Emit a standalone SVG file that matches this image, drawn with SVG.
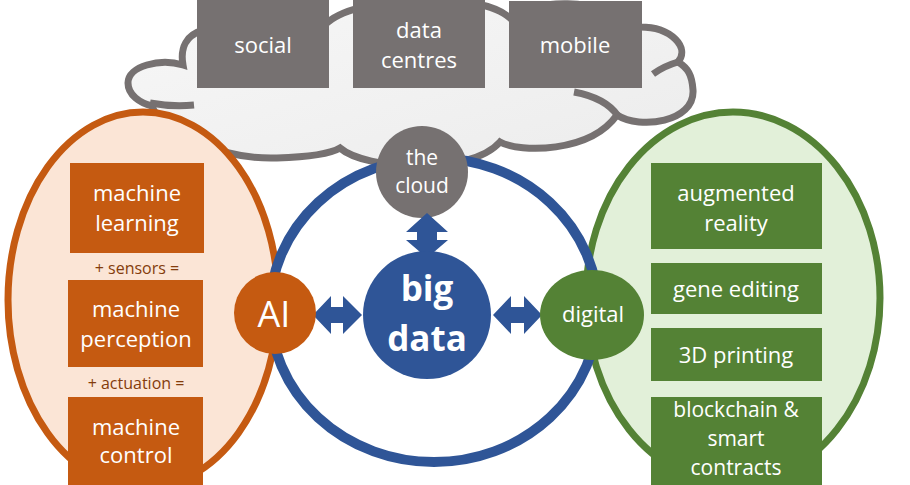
<svg xmlns="http://www.w3.org/2000/svg" width="910" height="485" viewBox="0 0 910 485">
<defs>
<linearGradient id="cg" x1="0" y1="0" x2="1" y2="1">
<stop offset="0" stop-color="#F7F7F7"/><stop offset="1" stop-color="#ECECEC"/>
</linearGradient>
</defs>
<style>
text{font-family:"Open Sans","Liberation Sans",sans-serif;text-anchor:middle;fill:#FFFFFF;font-size:22px}
.cloudline{fill:none;stroke:#767171;stroke-width:7;stroke-linecap:butt}
.gray{fill:#767171}
.orange{fill:#C55A11}
.green{fill:#548235}
.blue{fill:#2F5597}
.small{fill:#843C0C;font-size:16px}
.tight{font-size:21px}
.big{font-size:35px;font-weight:bold}
</style>
<rect width="910" height="485" fill="#FFFFFF"/>
<g id="cloud-shape">
<path d="M 205 30 C 186 34 180 48 183 65 C 160 58 128 66 128 83 C 128 95 140 103 152 106 C 160 130 220 160 277 158 C 310 157 330 154 340 148 C 365 170 470 176 500 142 C 520 153 590 153 617 115 C 640 130 695 122 693 90 C 692 75 688 68 678 62 C 690 48 672 27 640 27 C 600 -5 530 0 510 18 C 480 -10 360 -5 328 22 C 300 2 220 6 205 30 Z" fill="url(#cg)" stroke="#767171" stroke-width="7" stroke-linejoin="miter"/>
<path class="cloudline" d="M 150 103 Q 172 107 194 105"/>
<path class="cloudline" d="M 574 92 Q 606 98 618 116"/>
<path class="cloudline" d="M 653 74 Q 664 66 678 62"/>
</g>
<g id="ai-group">
<ellipse cx="143" cy="300" rx="135" ry="188" fill="#FBE5D6" stroke="#C55A11" stroke-width="7"/>
</g>
<g id="digital-group">
<ellipse cx="733" cy="298" rx="147" ry="186" fill="#E2F0D9" stroke="#548235" stroke-width="7"/>
</g>
<g id="ring">
<ellipse cx="434" cy="310" rx="164" ry="152" fill="none" stroke="#2F5597" stroke-width="10"/>
</g>
<g id="social">
<rect class="gray" x="197" y="0" width="132" height="88"/>
<text x="263" y="53">social</text>
</g>
<g id="data-centres">
<rect class="gray" x="353" y="0" width="132" height="88"/>
<text x="419" y="38">data</text>
<text x="419" y="68">centres</text>
</g>
<g id="mobile">
<rect class="gray" x="509" y="1" width="133" height="87"/>
<text x="575" y="53">mobile</text>
</g>
<g id="the-cloud">
<circle class="gray" cx="422" cy="172" r="46"/>
<text class="tight" x="422" y="165">the</text>
<text class="tight" x="422" y="193">cloud</text>
</g>
<g id="machine-learning">
<rect class="orange" x="70" y="163" width="134" height="90"/>
<text x="137" y="201">machine</text>
<text x="137" y="231">learning</text>
</g>
<text class="small" x="137" y="274">+ sensors =</text>
<g id="machine-perception">
<rect class="orange" x="68" y="280" width="135" height="87"/>
<text x="136" y="317">machine</text>
<text x="136" y="347">perception</text>
</g>
<text class="small" x="136" y="389">+ actuation =</text>
<g id="machine-control">
<rect class="orange" x="68" y="397" width="135" height="88"/>
<text x="136" y="435">machine</text>
<text x="136" y="463">control</text>
</g>
<g id="augmented-reality">
<rect class="green" x="651" y="163" width="171" height="86"/>
<text x="736" y="201">augmented</text>
<text x="736" y="231">reality</text>
</g>
<g id="gene-editing">
<rect class="green" x="651" y="263" width="171" height="51"/>
<text x="736" y="297">gene editing</text>
</g>
<g id="printing">
<rect class="green" x="651" y="328" width="171" height="53"/>
<text x="736" y="363">3D printing</text>
</g>
<g id="blockchain">
<rect class="green" x="651" y="397" width="171" height="88"/>
<text class="tight" x="736" y="417">blockchain &amp;</text>
<text class="tight" x="736" y="446">smart</text>
<text class="tight" x="736" y="475">contracts</text>
</g>
<g id="connectors">
<polygon class="blue" points="427,213 448,232 437,232 437,240 448,240 427,258 406,240 417,240 417,232 406,232"/>
<polygon class="blue" points="313,315 331,296 331,307 343,307 343,296 362,315 343,334 343,323 331,323 331,334"/>
<polygon class="blue" points="493,315 511,296 511,307 524,307 524,296 542,315 524,334 524,323 511,323 511,334"/>
</g>
<g id="ai">
<circle class="orange" cx="275" cy="313" r="41"/>
<text x="274" y="327" style="font-size:36px">AI</text>
</g>
<g id="big-data">
<circle class="blue" cx="427" cy="315" r="64"/>
<text class="big" x="427" y="301">big</text>
<text class="big" x="427" y="351">data</text>
</g>
<g id="digital">
<ellipse class="green" cx="592" cy="315" rx="52" ry="45"/>
<text x="593" y="322">digital</text>
</g>
</svg>
